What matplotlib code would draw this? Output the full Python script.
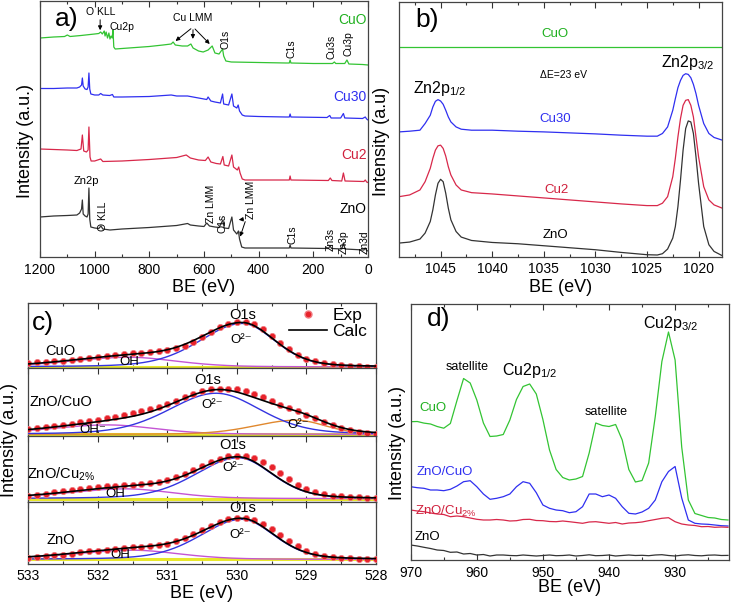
import numpy as np
import matplotlib
matplotlib.use("Agg")
import matplotlib.pyplot as plt
from matplotlib.lines import Line2D
from matplotlib.ticker import MultipleLocator

plt.rcParams['font.family'] = ['Liberation Sans', 'DejaVu Sans']
plt.rcParams['mathtext.fontset'] = 'custom'
plt.rcParams['mathtext.rm'] = 'Liberation Sans'
plt.rcParams['mathtext.it'] = 'Liberation Sans'
plt.rcParams['mathtext.default'] = 'regular'

# ---------------- colours ----------------
GREEN = '#33c433'
BLUE = '#2f2ff0'
RED = '#d8284a'
DARK = '#333333'
C_BLUE = '#3434e0'
C_PURPLE = '#c455d4'
C_ORANGE = '#e0882e'
C_YELLOW = '#e8e82a'
C_EXP = '#e8232b'

# ================= panel a : survey spectra =================
a_cuo_be = [1200, 1150, 1110, 1100, 1090, 1050, 1000, 985, 978, 972, 965, 962, 958, 953, 948, 944, 940, 936, 933,
            930, 925, 900, 850, 800, 750, 720, 713, 705, 680, 660, 648, 640, 620, 603, 585, 570, 560, 545, 532, 528,
            520, 500, 400, 300, 288, 285, 282, 200, 130, 123, 118, 85, 77, 70, 20, 0]
a_cuo_i = [219, 220, 220.5, 222, 220.5, 221.5, 223, 223.5, 225, 223, 226, 221, 225, 219, 224, 218, 221, 219, 227,
           210, 208, 208.5, 209.5, 210.5, 212, 213, 215, 212, 211, 211, 213, 209, 206, 205, 207, 211, 204, 203, 208, 201,
           196, 195, 194.5, 194, 194, 197, 194, 193.5, 193.5, 195, 193.5, 193.5, 197, 193, 192.5, 192]

a_cu30_be = [1200, 1150, 1100, 1065, 1055, 1048, 1045, 1042, 1035, 1028, 1024, 1021, 1018, 1014, 1000, 985, 978, 970,
             945, 935, 930, 900, 800, 720, 700, 660, 620, 590, 585, 575, 560, 540, 532, 528, 510, 498, 492, 480, 475,
             470, 460, 450, 400, 300, 288, 285, 282, 150, 140, 135, 100, 90, 85, 20, 10, 5, 0]
a_cu30_i = [168.5, 168.5, 169, 169, 170, 172, 179, 171, 168, 167.5, 170, 184, 168, 163, 162, 162, 163.5, 162,
            161.5, 162.5, 160, 160, 160.5, 162, 161, 161, 159, 157.5, 160, 156, 155, 154, 163, 153, 152, 163, 151, 149, 152,
            146, 142, 141, 140.5, 140, 140, 143, 140, 139.5, 141.5, 139, 139, 143.5, 139, 138.5, 140, 138, 137]

a_cu2_be = [1200, 1150, 1100, 1065, 1050, 1045, 1040, 1030, 1024, 1021, 1017, 1013, 1000, 978, 970, 900, 800, 700,
            665, 650, 620, 595, 585, 575, 555, 540, 531, 526, 510, 498, 492, 478, 473, 468, 460, 450, 400, 288, 285,
            282, 145, 138, 132, 96, 90, 84, 15, 10, 5, 0]
a_cu2_i = [108, 107.5, 107, 106.5, 108, 122, 106, 105, 107, 130, 100, 96, 96, 98, 95.5, 96, 97.5, 99.5,
           102, 99, 97, 96.5, 100, 95, 93.5, 93, 100.5, 92, 91, 102, 90, 87, 90, 84, 78, 77, 77, 77, 81,
           77, 76.5, 79, 76.5, 76, 84, 76, 75.5, 77, 75, 74.5]

a_zno_be = [1200, 1150, 1100, 1065, 1055, 1048, 1045, 1042, 1035, 1028, 1024, 1021, 1018, 1014, 1000, 985, 977, 970,
            944, 900, 800, 700, 660, 650, 620, 600, 590, 580, 560, 545, 531, 526, 510, 498, 492, 480, 474, 470, 462,
            450, 400, 288, 285, 282, 145, 139, 133, 96, 90, 84, 15, 10, 5, 0]
a_zno_i = [40, 41, 41.5, 42, 44, 48, 57, 43, 41, 40, 43, 69, 38, 30, 29, 28.5, 31, 28,
           27, 28, 29.5, 31.5, 33.5, 32, 31, 30.5, 34, 31, 30, 29.5, 37, 29, 28.5, 40, 27, 23, 26, 18, 10,
           9, 9, 9, 12, 9, 8.5, 11, 8.5, 8, 14, 8, 7, 9, 6.5, 6]

# ================= panel b : Zn2p =================
b_be = [1049, 1048, 1047, 1046.5, 1046, 1045.75, 1045.5, 1045.25, 1045, 1044.75, 1044.5, 1044.25, 1044, 1043.5, 1043,
        1042, 1040, 1037.5, 1035, 1032.5, 1030, 1027.5, 1025, 1024, 1023.5, 1023, 1022.5, 1022.25, 1022, 1021.75,
        1021.5, 1021.25, 1021, 1020.75, 1020.5, 1020.25, 1020, 1019.5, 1019, 1018.5, 1017.7]
b_cu30 = [125.3, 126, 127, 133.7, 142, 150.3, 156, 157.7, 156.3, 153, 147, 140.3, 135.3, 130.3, 128,
          127, 127, 126, 125.3, 124.3, 123.3, 122, 121, 121, 123.7, 130.3, 147, 158.7, 169.7, 177,
          182, 183.7, 183, 179.7, 173, 163.7, 152, 133.7, 123.7, 119.7, 117]
b_cu2 = [60.3, 62, 67, 75.3, 88.7, 98.7, 107, 111.3, 112, 108.7, 101, 90.3, 82, 72, 67,
         64.3, 63, 61, 59, 57, 55, 53, 51.3, 51.3, 53.7, 60.3, 80.3, 98.7, 120.3, 138.7,
         152, 157, 157.7, 152, 140.3, 120.3, 100.3, 70.3, 57, 52, 48.7]
b_zno = [13.7, 14.7, 17.7, 23.7, 35.3, 47, 62, 73.7, 77.7, 75.3, 63.7, 48.7, 37, 25.3, 19.7,
         16.3, 14.3, 13, 11, 9, 7, 4.3, 2, 1.7, 3, 7.7, 18.7, 30.3, 50.3, 77,
         107, 128.7, 136.3, 135.3, 123.7, 100.3, 73.7, 30.3, 12, 5.3, 1]
b_cuo_be = [1049, 1017.7]
b_cuo = [210.3, 210.3]

# ================= panel c : O1s fits =================
c_names = ['CuO', 'ZnO/CuO', 'ZnO/Cu$_{2\\%}$', 'ZnO']
c_be = [533.0 - 0.125 * k for k in range(41)]
c_exp_cuo = [0.08, 0.09, 0.10, 0.11, 0.12, 0.135, 0.15, 0.165, 0.18, 0.195, 0.21, 0.22, 0.23, 0.24, 0.25, 0.26,
             0.28, 0.31, 0.35, 0.41, 0.48, 0.56, 0.63, 0.68, 0.71, 0.71, 0.68, 0.60, 0.50, 0.39, 0.29, 0.21,
             0.15, 0.11, 0.08, 0.06, 0.045, 0.035, 0.03, 0.025, 0.02]
c_exp_znocuo = [0.10, 0.115, 0.13, 0.15, 0.165, 0.18, 0.20, 0.22, 0.24, 0.26, 0.28, 0.31, 0.33, 0.36, 0.39, 0.43,
                0.47, 0.52, 0.57, 0.62, 0.66, 0.69, 0.70, 0.70, 0.69, 0.66, 0.62, 0.57, 0.52, 0.46, 0.41, 0.36,
                0.31, 0.26, 0.21, 0.16, 0.12, 0.09, 0.06, 0.04, 0.025]
c_exp_znocu2 = [0.09, 0.10, 0.12, 0.14, 0.155, 0.17, 0.19, 0.21, 0.225, 0.235, 0.245, 0.25, 0.26, 0.27, 0.285, 0.30,
                0.33, 0.37, 0.42, 0.48, 0.54, 0.60, 0.65, 0.685, 0.70, 0.695, 0.66, 0.60, 0.52, 0.43, 0.34, 0.26,
                0.19, 0.14, 0.11, 0.09, 0.08, 0.07, 0.065, 0.06, 0.055]
c_exp_zno = [0.09, 0.10, 0.115, 0.13, 0.145, 0.16, 0.18, 0.195, 0.21, 0.225, 0.24, 0.255, 0.265, 0.27, 0.28, 0.295,
             0.32, 0.36, 0.41, 0.47, 0.54, 0.61, 0.67, 0.715, 0.735, 0.735, 0.70, 0.64, 0.56, 0.46, 0.36, 0.28,
             0.21, 0.15, 0.12, 0.10, 0.09, 0.085, 0.08, 0.08, 0.075]
c_exp = [c_exp_cuo, c_exp_znocuo, c_exp_znocu2, c_exp_zno]
# fitted components: (centre, height, fwhm low-BE side, fwhm high-BE side, lorentz fraction)
c_base = [0.02, 0.02, 0.045, 0.065]
c_o2 = [(529.92, 0.67, 1.10, 1.45, 0.25), (530.30, 0.61, 1.50, 1.60, 0.25),
        (529.98, 0.62, 1.15, 1.45, 0.25), (529.93, 0.65, 1.10, 1.40, 0.25)]
c_oh = [(531.55, 0.15, 1.60, 2.00, 0.30), (531.85, 0.14, 1.60, 2.00, 0.30),
        (531.60, 0.15, 1.60, 2.00, 0.30), (531.50, 0.15, 1.60, 2.00, 0.30)]
c_o2b = [None, (529.15, 0.21, 1.00, 1.40, 0.20), None, None]

# ================= panel d : Cu2p =================
d_be = list(range(970, 921, -1))
d_cuo = [138.3, 138.5, 136.9, 136.0, 133.5, 131.8, 136.5, 159.5, 181.5, 177.0, 160.0, 137.0, 123.5, 124.0, 125.5,
         140.0, 160.5, 173.5, 176.0, 166.0, 140.5, 110.0, 90.5, 82.5, 80.0, 81.0, 83.5, 107.0, 137.0, 134.5,
         133.5, 135.5, 120.0, 90.5, 78.0, 79.5, 97.0, 143.5, 198.5, 228.0, 200.0, 113.0, 60.0, 46.5, 44.5,
         42.5, 42.0, 40.5, 40.0]
d_znocuo = [73.3, 72.3, 71.7, 70.0, 70.0, 69.3, 70.7, 74.0, 78.3, 79.3, 73.3, 66.0, 60.7, 61.7, 63.3,
            66.0, 73.3, 78.3, 76.7, 67.3, 55.0, 51.7, 50.0, 49.3, 47.3, 48.3, 53.3, 66.0, 66.0, 63.3,
            65.0, 61.7, 53.3, 46.7, 46.0, 48.0, 51.7, 60.0, 78.3, 88.5, 93.5, 62.0, 40.0, 36.7, 36.0,
            35.7, 35.0, 34.3, 34.0]
d_znocu2 = [50.0, 49.0, 48.3, 47.0, 46.0, 45.5, 43.3, 44.0, 43.3, 42.0, 40.7, 40.0, 40.0, 40.5, 40.0,
            39.0, 39.3, 40.5, 40.7, 39.5, 39.3, 38.5, 38.3, 39.0, 38.3, 37.5, 36.7, 38.0, 38.3, 37.5,
            36.7, 37.5, 36.0, 37.0, 37.3, 38.0, 39.3, 40.5, 41.7, 42.3, 38.3, 36.0, 35.0, 34.5, 33.3,
            33.5, 32.7, 33.0, 32.7]
d_zno = [15.0, 14.0, 12.7, 11.5, 10.0, 9.5, 7.7, 8.0, 6.0, 6.5, 5.0, 5.5, 4.0, 5.0, 5.0,
         4.5, 4.3, 5.0, 4.5, 4.0, 4.5, 5.0, 4.3, 4.5, 5.0, 4.0, 4.5, 5.2, 4.3, 4.5,
         5.0, 4.0, 4.5, 5.0, 4.5, 4.7, 4.3, 5.0, 5.3, 4.5, 4.0, 4.8, 5.2, 4.5, 4.2,
         4.8, 5.0, 4.5, 4.6]

# ================= figure =================
W, H = 731, 605
fig = plt.figure(figsize=(W / 100, H / 100), dpi=100)


def ax_px(l, t, r, b):
    return fig.add_axes([l / W, 1 - b / H, (r - l) / W, (b - t) / H])


def ftext(x, y, s, **kw):
    fig.text(x / W, 1 - y / H, s, **kw)


def style(ax, major, minor, labelbottom=True):
    ax.xaxis.set_major_locator(MultipleLocator(major))
    ax.xaxis.set_minor_locator(MultipleLocator(minor))
    ax.tick_params(axis='x', which='both', direction='in', top=True, bottom=True,
                   labelbottom=labelbottom, labelsize=10, pad=4, colors=DARK, labelcolor='black')
    ax.tick_params(axis='x', which='major', length=4, width=0.8)
    ax.tick_params(axis='x', which='minor', length=2.5, width=0.8)
    ax.set_yticks([])
    for s in ax.spines.values():
        s.set_color('#444444')
        s.set_linewidth(0.9)


LW = 0.9
LAB_FS = 13
SUP_O2 = 'O\u00b2\u207b'

# ---- a ----
ax = ax_px(40, 1, 368, 257)
ax.plot(a_cuo_be, a_cuo_i, color=GREEN, lw=LW)
ax.plot(a_cu30_be, a_cu30_i, color=BLUE, lw=LW)
ax.plot(a_cu2_be, a_cu2_i, color=RED, lw=LW)
ax.plot(a_zno_be, a_zno_i, color=DARK, lw=LW)
ax.set_xlim(1200, 0)
ax.set_ylim(0, 256)
style(ax, 200, 100)
fs_ann = 7.5
ax.text(978, 245, 'O KLL', fontsize=fs_ann, ha='center', va='center')
ax.annotate('', xy=(980, 224), xytext=(980, 240), arrowprops=dict(arrowstyle='-|>', lw=0.7, color='k',
                                                                    mutation_scale=6))
ax.text(901, 230, 'Cu2p', fontsize=fs_ann, ha='center', va='center')
ax.text(640, 239, 'Cu LMM', fontsize=fs_ann, ha='center', va='center')
for tx, ty in [(712, 214.3), (641, 215.3), (572, 211)]:
    ax.annotate('', xy=(tx, ty), xytext=(640, 230), arrowprops=dict(arrowstyle='-|>', lw=0.7, color='k',
                                                                      mutation_scale=6))
for s, x, y in [('O1s', 523, 218), ('C1s', 279, 208.7), ('Cu3s', 133, 210), ('Cu3p', 72, 213.7),
                ('Zn LMM', 575, 53), ('O1s', 532, 33.7), ('Zn LMM', 429, 57), ('C1s', 275, 22.7),
                ('Zn3s', 136, 18), ('Zn3p', 88, 15.3), ('Zn3d', 11, 15.3), ('O KLL', 971, 41)]:
    ax.text(x, y, s, fontsize=fs_ann, rotation=90, ha='center', va='center')
ax.text(1032, 76, 'Zn2p', fontsize=fs_ann + 0.5, ha='center', va='center')
for tx, ty in [(483, 37), (471, 17.7)]:
    ax.annotate('', xy=(tx, ty), xytext=(446, 38), arrowprops=dict(arrowstyle='-|>', lw=0.7, color='k',
                                                                     mutation_scale=6))
ax.text(4, 237, 'CuO', color='#1fb01f', fontsize=10, ha='right', va='center')
ax.text(4, 160, 'Cu30', color=BLUE, fontsize=10, ha='right', va='center')
ax.text(4, 102, 'Cu2', color='#d0203c', fontsize=10, ha='right', va='center')
ax.text(4, 47.7, 'ZnO', color='black', fontsize=10, ha='right', va='center')
ax.text(0.045, 0.93, 'a)', transform=ax.transAxes, fontsize=19, ha='left', va='center')
ftext(26, 141, 'Intensity (a.u.)', rotation=90, fontsize=LAB_FS, ha='center', va='center')
ftext(204, 287, 'BE (eV)', fontsize=LAB_FS, ha='center', va='center')

# ---- b ----
ax = ax_px(399.3, 1.7, 722.3, 256.7)
ax.plot(b_cuo_be, b_cuo, color=GREEN, lw=LW)
ax.plot(b_be, b_cu30, color=BLUE, lw=LW)
ax.plot(b_be, b_cu2, color=RED, lw=LW)
ax.plot(b_be, b_zno, color=DARK, lw=LW)
ax.set_xlim(1049, 1017.7)
ax.set_ylim(0, 256)
style(ax, 5, 2.5)
ax.text(1033.9, 224, 'CuO', color='#1fb01f', fontsize=9.5, ha='center', va='center')
ax.text(1033.9, 138.7, 'Cu30', color=BLUE, fontsize=9.5, ha='center', va='center')
ax.text(1033.75, 67, 'Cu2', color='#d0203c', fontsize=9.5, ha='center', va='center')
ax.text(1033.9, 22, 'ZnO', color='black', fontsize=9.5, ha='center', va='center')
ax.text(1033.1, 182, '\u0394E=23 eV', fontsize=7.5, ha='center', va='center')
ax.text(1045.07, 159, 'Zn2p$_{1/2}$', fontsize=11.5, ha='center', va='bottom')
ax.text(1021.0, 185, 'Zn2p$_{3/2}$', fontsize=11.5, ha='center', va='bottom')
ax.text(0.05, 0.93, 'b)', transform=ax.transAxes, fontsize=19, ha='left', va='center')
ftext(382, 141, 'Intensity (a.u)', rotation=90, fontsize=LAB_FS, ha='center', va='center')
ftext(561, 287, 'BE (eV)', fontsize=LAB_FS, ha='center', va='center')


# ---- c ----
def comp(x, p):
    c, h, wl, wh, eta = p
    w = np.where(x >= c, wh, wl)
    t = (x - c) / w
    return h * ((1 - eta) * np.exp(-4 * np.log(2) * t ** 2) + eta / (1 + 4 * t ** 2))


xf = np.linspace(533, 528, 400)
bounds = [303.3, 368.3, 435.7, 501.7, 563.5]
c_axes = []
for i in range(4):
    ax = ax_px(28.3, bounds[i], 376, bounds[i + 1])
    c_axes.append(ax)
    base = c_base[i]
    o2 = comp(xf, c_o2[i])
    oh = comp(xf, c_oh[i])
    total = base + o2 + oh
    ax.plot(xf, np.full_like(xf, base), color=C_YELLOW, lw=2.2, zorder=2)
    ax.plot(xf, base + oh, color=C_PURPLE, lw=1.0, zorder=3)
    if c_o2b[i] is not None:
        o2b = comp(xf, c_o2b[i])
        total = total + o2b
        ax.plot(xf, base + o2b, color=C_ORANGE, lw=1.0, zorder=3)
    ax.plot(xf, base + o2, color=C_BLUE, lw=1.0, zorder=3)
    ax.plot(c_be, c_exp[i], 'o', color=C_EXP, ms=4.5, mec='#f07a80', mew=0.5, zorder=4)
    ax.plot(xf, total, color='black', lw=1.2, zorder=5)
    ax.set_xlim(533, 528)
    ax.set_ylim(0, 1)
    style(ax, 1, 0.5, labelbottom=(i == 3))

ax = c_axes[0]
leg_h = [Line2D([], [], ls='none', marker='o', color=C_EXP, ms=5, mec='#f07a80'),
         Line2D([], [], color='black', lw=1.2)]
ax.legend(leg_h, ['Exp', 'Calc'], loc='upper right', frameon=False, fontsize=12.5, handlelength=2.2,
          handletextpad=0.3, labelspacing=0.05, borderaxespad=0.1, bbox_to_anchor=(1.0, 1.06))
fc = 10.5
ftext(43.3, 323.3, 'c)', fontsize=19, ha='center', va='center')
ftext(60.8, 351, c_names[0], fontsize=fc, ha='center', va='center')
ftext(60.8, 401.7, c_names[1], fontsize=fc, ha='center', va='center')
ftext(60.8, 474, c_names[2], fontsize=fc, ha='center', va='center')
ftext(60.8, 540, c_names[3], fontsize=fc, ha='center', va='center')
for x, y in [(242.5, 315), (208, 380), (233, 445), (243, 508.3)]:
    ftext(x, y, 'O1s', fontsize=fc, ha='center', va='center')
for x, y in [(240.8, 340), (212, 405), (298.3, 425), (233, 468.3), (240, 535)]:
    ftext(x, y, SUP_O2, fontsize=9.5, ha='center', va='center')
ftext(129, 361.7, 'OH', fontsize=9.5, ha='center', va='center')
ftext(93.3, 430, 'OH\u207b', fontsize=9.5, ha='center', va='center')
ftext(115.8, 494, 'OH', fontsize=9.5, ha='center', va='center')
ftext(120.8, 555, 'OH', fontsize=9.5, ha='center', va='center')
ftext(10, 440, 'Intensity (a.u.)', rotation=90, fontsize=LAB_FS, ha='center', va='center')
ftext(202, 593, 'BE (eV)', fontsize=LAB_FS, ha='center', va='center')

# ---- d ----
ax = ax_px(410.7, 304, 729.3, 560)
ax.plot(d_be, d_cuo, color=GREEN, lw=LW)
ax.plot(d_be, d_znocuo, color=BLUE, lw=LW)
ax.plot(d_be, d_znocu2, color=RED, lw=LW)
ax.plot(d_be, d_zno, color=DARK, lw=LW)
ax.set_xlim(970, 921.8)
ax.set_ylim(0, 256)
style(ax, 10, 5)
ax.text(930.7, 236.7, 'Cu2p$_{3/2}$', fontsize=11.5, ha='center', va='center')
ax.text(952.0, 190, 'Cu2p$_{1/2}$', fontsize=11.5, ha='center', va='center')
ax.text(961.5, 193.3, 'satellite', fontsize=9, ha='center', va='center')
ax.text(940.5, 148.3, 'satellite', fontsize=9, ha='center', va='center')
ax.text(966.6, 151.7, 'CuO', color='#1fb01f', fontsize=9.5, ha='center', va='center')
ax.text(964.9, 88.3, 'ZnO/CuO', color=BLUE, fontsize=9.5, ha='center', va='center')
ax.text(964.7, 48.3, 'ZnO/Cu$_{2\\%}$', color='#d0203c', fontsize=9.5, ha='center', va='center')
ax.text(967.4, 23.3, 'ZnO', color='black', fontsize=9.5, ha='center', va='center')
ax.text(0.05, 0.94, 'd)', transform=ax.transAxes, fontsize=19, ha='left', va='center')
ftext(398, 443, 'Intensity (a.u.)', rotation=90, fontsize=LAB_FS, ha='center', va='center')
ftext(570, 587, 'BE (eV)', fontsize=LAB_FS, ha='center', va='center')

fig.savefig('out.png', dpi=100)
